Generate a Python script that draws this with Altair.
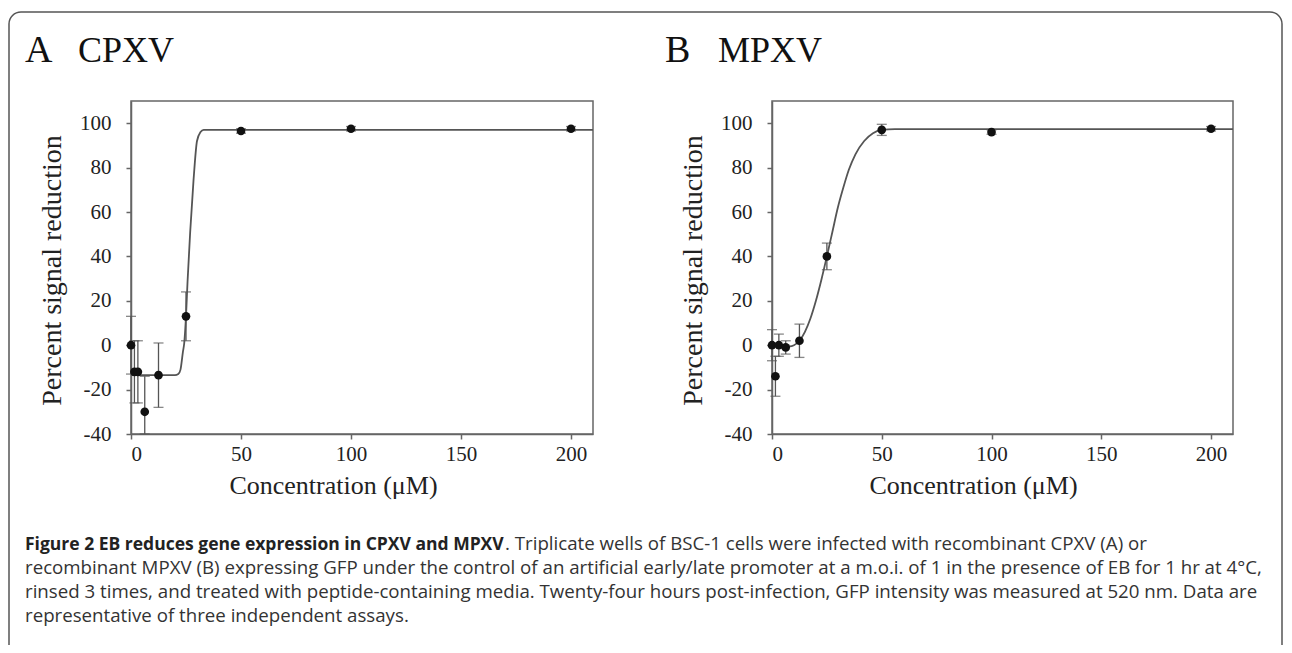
import altair as alt
import pandas as pd

# ---------------- data ----------------
conc = [0, 1.56, 3.125, 6.25, 12.5, 25, 50, 100, 200]

cpxv_mean = [0, -12, -12, -30, -13.5, 13, 96.5, 97.5, 97.5]
cpxv_err = [13, 14, 14, 16, 14.5, 11, 1, 1, 1]

mpxv_mean = [0, -14, 0, -1, 2, 40, 97, 96, 97.5]
mpxv_err = [7, 9, 5, 3, 7.5, 6, 2.5, 1, 1]

cpxv_fit_x = [0, 20, 21.5, 22.5, 23.6, 24.2, 25, 25.7, 26.9, 28.4, 30, 31.6, 33, 40, 210]
cpxv_fit_y = [-13.5, -13.5, -13, -11, -3, 1, 13, 28.6, 51, 74, 92, 96, 97, 97, 97]

mpxv_fit_x = [0, 5, 8, 10, 12.5, 15, 17.5, 20, 22.5, 25, 27.5, 30, 32.5, 35, 38, 42, 46, 50, 56, 210]
mpxv_fit_y = [0, -0.5, -0.5, 0, 2, 6, 12, 20, 29.5, 40, 51, 62, 71, 79, 86, 92, 95.5, 97, 97.3, 97.3]

x_ticks = [0, 50, 100, 150, 200]
y_ticks = [-40, -20, 0, 20, 40, 60, 80, 100]
x_domain = [0, 210]
y_domain = [-40, 110]

panel_letters = ["A", "B"]
panel_names = ["CPXV", "MPXV"]
x_title = "Concentration (\u03bcM)"
y_title = "Percent signal reduction"

caption_bold = "Figure 2 EB reduces gene expression in CPXV and MPXV"
caption_line1 = ". Triplicate wells of BSC-1 cells were infected with recombinant CPXV (A) or"
caption_lines = [
    "recombinant MPXV (B) expressing GFP under the control of an artificial early/late promoter at a m.o.i. of 1 in the presence of EB for 1 hr at 4\u00b0C,",
    "rinsed 3 times, and treated with peptide-containing media. Twenty-four hours post-infection, GFP intensity was measured at 520 nm. Data are",
    "representative of three independent assays.",
]

# ---------------- layout ----------------
W, H = 1276, 637
Y_RANGE = [426, 93]
X_AXIS_OFFSET = 426 - H
SERIF = "Liberation Serif"
SANS = "Open Sans"
LINE = "#666666"


def panel(mean, err, fit_x, fit_y, x_range, y_off, title_x):
    pts = pd.DataFrame({
        "c": conc,
        "m": mean,
        "lo": [m - e for m, e in zip(mean, err)],
        "hi": [m + e for m, e in zip(mean, err)],
    })
    fit = pd.DataFrame({"c": fit_x, "m": fit_y})
    frame = pd.DataFrame({"x0": [x_domain[0]], "x1": [x_domain[1]],
                          "y0": [y_domain[0]], "y1": [y_domain[1]]})

    xs = alt.Scale(domain=x_domain, range=x_range, clamp=True, nice=False, zero=False)
    ys = alt.Scale(domain=y_domain, range=Y_RANGE, clamp=True, nice=False, zero=False)
    xaxis = alt.Axis(orient="bottom", offset=X_AXIS_OFFSET, values=x_ticks, title=x_title,
                     grid=False, labelFont=SERIF, labelFontSize=21, labelColor="#222",
                     labelPadding=4, tickSize=5, tickWidth=1.5, tickColor=LINE,
                     domainColor=LINE, domainWidth=1.5, labelExpr="toString(datum.value)",
                     titleFont=SERIF, titleFontSize=26, titleFontWeight="normal",
                     titleColor="#222", titleBaseline="alphabetic", titleAlign="center",
                     titleX=title_x, titleY=59)
    yaxis = alt.Axis(orient="left", offset=y_off, values=y_ticks, title=y_title,
                     grid=False, labelFont=SERIF, labelFontSize=21, labelColor="#222",
                     labelPadding=15, tickSize=5, tickWidth=1.5, tickColor=LINE,
                     domainColor=LINE, domainWidth=1.5, labelExpr="toString(datum.value)",
                     titleFont=SERIF, titleFontSize=28, titleFontWeight="normal",
                     titleColor="#222", titleAngle=270, titleAlign="center",
                     titleBaseline="middle", titleX=-79, titleY=262)

    box = alt.Chart(frame).mark_rect(fillOpacity=0, stroke=LINE, strokeWidth=1.5).encode(
        x=alt.X("x0:Q", scale=xs, axis=xaxis), x2="x1:Q",
        y=alt.Y("y0:Q", scale=ys, axis=yaxis), y2="y1:Q")
    curve = alt.Chart(fit).mark_line(color="#555", strokeWidth=1.8, interpolate="monotone").encode(
        x=alt.X("c:Q", scale=xs, axis=xaxis), y=alt.Y("m:Q", scale=ys, axis=yaxis))
    bars = alt.Chart(pts).mark_rule(color="#555", strokeWidth=1.3).encode(
        x=alt.X("c:Q", scale=xs, axis=xaxis), y=alt.Y("lo:Q", scale=ys, axis=yaxis), y2="hi:Q")
    caps_lo = alt.Chart(pts).mark_tick(orient="horizontal", size=10, thickness=1.3, color="#555").encode(
        x=alt.X("c:Q", scale=xs, axis=xaxis), y=alt.Y("lo:Q", scale=ys, axis=yaxis))
    caps_hi = alt.Chart(pts).mark_tick(orient="horizontal", size=10, thickness=1.3, color="#555").encode(
        x=alt.X("c:Q", scale=xs, axis=xaxis), y=alt.Y("hi:Q", scale=ys, axis=yaxis))
    dots = alt.Chart(pts).mark_point(filled=True, size=75, color="#111", opacity=1).encode(
        x=alt.X("c:Q", scale=xs, axis=xaxis), y=alt.Y("m:Q", scale=ys, axis=yaxis))
    return alt.layer(box, curve, bars, caps_lo, caps_hi, dots)


panel_a = panel(cpxv_mean, cpxv_err, cpxv_fit_x, cpxv_fit_y, [123, 585], -123, 325)
panel_b = panel(mpxv_mean, mpxv_err, mpxv_fit_x, mpxv_fit_y, [764, 1225], -764, 965)

border = alt.Chart().mark_rect(clip=True, cornerRadius=12, fillOpacity=0,
                               stroke="#555", strokeWidth=1.5).encode(
    x=alt.value(1), x2=alt.value(W - 2), y=alt.value(4), y2=alt.value(H + 40))


def label(txt, xpos, ypos, size=36, font=SERIF, weight="normal", color="#111"):
    return alt.Chart().mark_text(align="left", baseline="alphabetic", font=font,
                                 fontSize=size, fontWeight=weight, color=color).encode(
        x=alt.value(xpos), y=alt.value(ypos), text=alt.value(txt))


titles = [
    label(panel_letters[0], 17, 54, size=38), label(panel_names[0], 70, 54),
    label(panel_letters[1], 657, 54, size=38), label(panel_names[1], 710, 54),
]

CAP_Y = 542
cap_bold = label(caption_bold, 17, CAP_Y, size=17.5, font=SANS, weight="bold", color="#222")
cap_l1 = label(caption_line1, 497, CAP_Y, size=18.7, font=SANS, color="#333")
cap_rest = alt.Chart().mark_text(align="left", baseline="alphabetic", font=SANS, fontSize=18.7,
                                 color="#333", lineBreak="\n", lineHeight=24).encode(
    x=alt.value(17), y=alt.value(CAP_Y + 24), text=alt.value("\n".join(caption_lines)))

chart = alt.layer(border, panel_a, panel_b, *titles, cap_bold, cap_l1, cap_rest).resolve_scale(
    x="independent", y="independent"
).properties(
    width=W, height=H, padding=0, background="white"
).configure_view(strokeWidth=0)

chart.save("out.html", embed_options={"renderer": "svg", "actions": False})
